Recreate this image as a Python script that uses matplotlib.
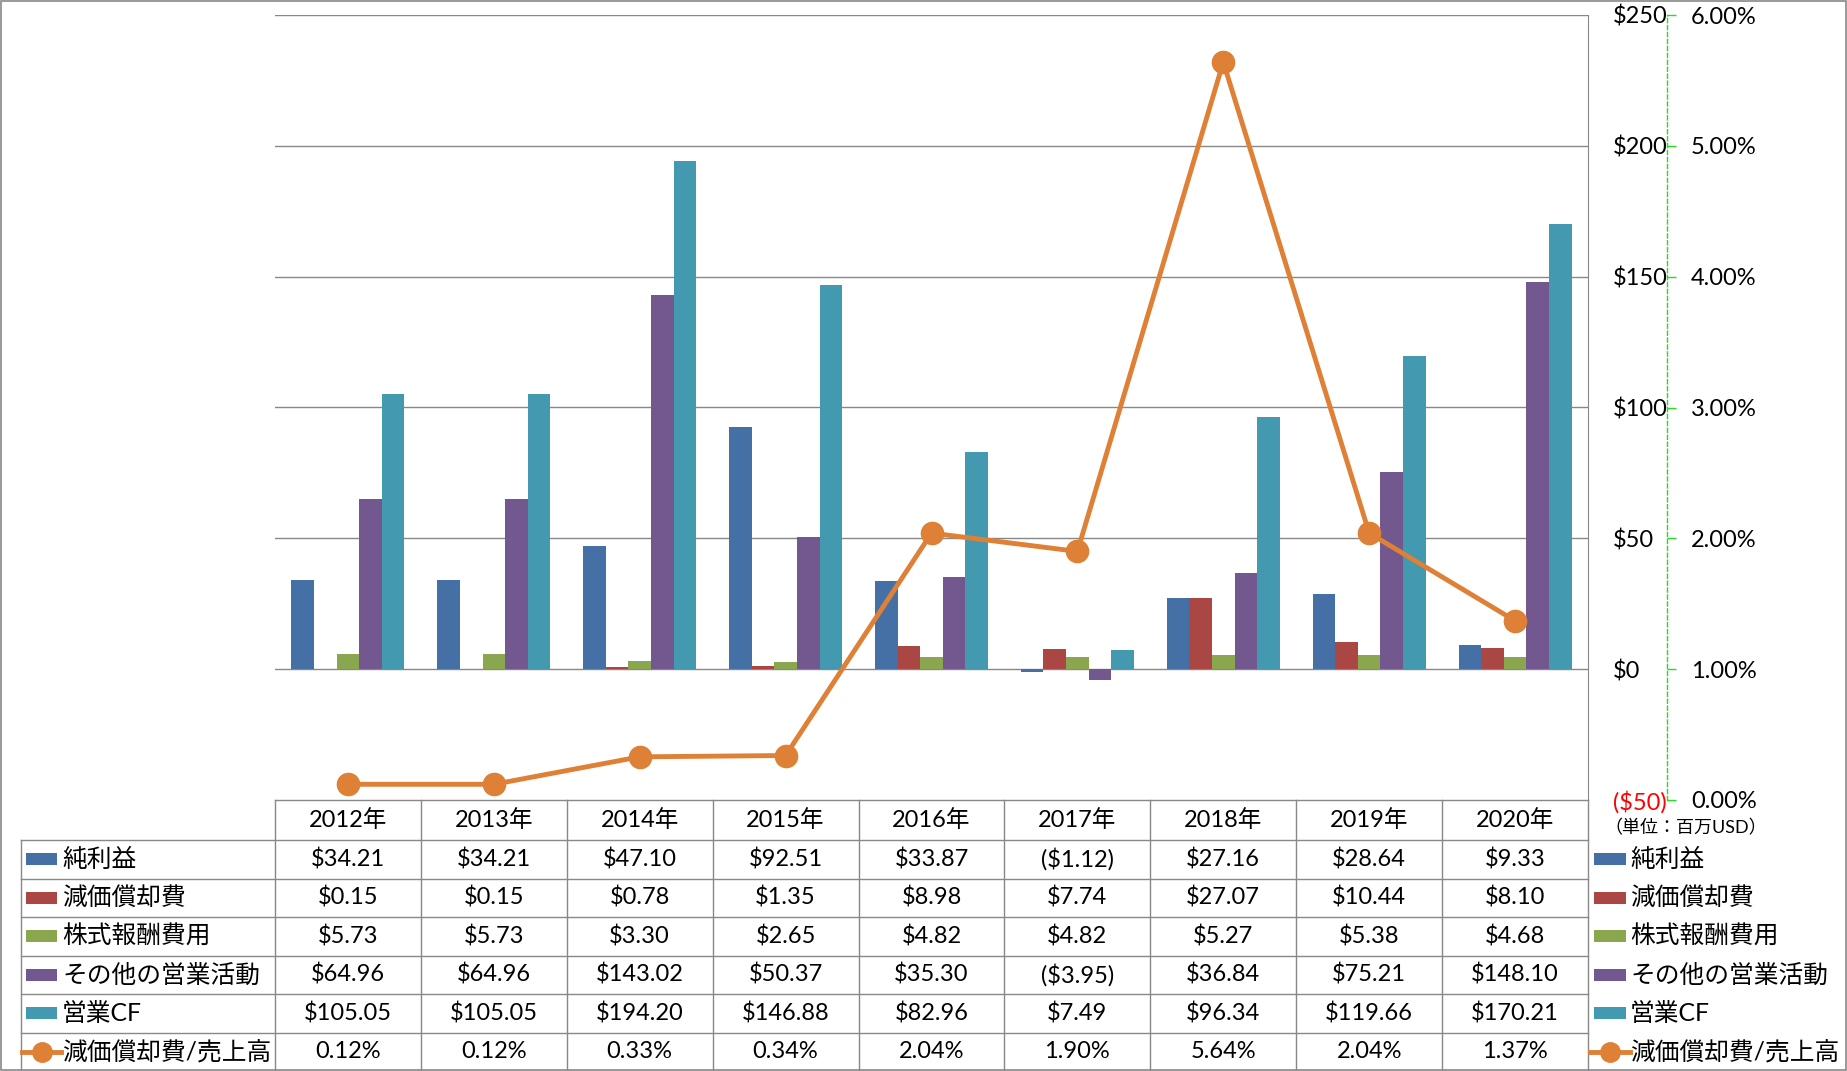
import matplotlib.pyplot as plt
import matplotlib.ticker as mticker
from matplotlib.lines import Line2D
from matplotlib.patches import Rectangle
import numpy as np

plt.rcParams['font.family'] = ['Lato', 'Noto Sans CJK JP', 'DejaVu Sans']

# ======================
# Data
# ======================
years = ['2012年', '2013年', '2014年', '2015年', '2016年', '2017年', '2018年', '2019年', '2020年']
series_names = ['純利益', '減価償却費', '株式報酬費用', 'その他の営業活動', '営業CF']
net_income = [34.21, 34.21, 47.10, 92.51, 33.87, -1.12, 27.16, 28.64, 9.33]
depreciation = [0.15, 0.15, 0.78, 1.35, 8.98, 7.74, 27.07, 10.44, 8.10]
stock_comp = [5.73, 5.73, 3.30, 2.65, 4.82, 4.82, 5.27, 5.38, 4.68]
other_ops = [64.96, 64.96, 143.02, 50.37, 35.30, -3.95, 36.84, 75.21, 148.10]
operating_cf = [105.05, 105.05, 194.20, 146.88, 82.96, 7.49, 96.34, 119.66, 170.21]
line_name = '減価償却費/売上高'
dep_ratio = [0.12, 0.12, 0.33, 0.34, 2.04, 1.90, 5.64, 2.04, 1.37]

bar_series = [net_income, depreciation, stock_comp, other_ops, operating_cf]
bar_colors = ['#4470A6', '#AA4644', '#8AA64E', '#72588E', '#4299B0']
line_color = '#DE8035'
grid_color = '#888888'

# ======================
# Layout (pixels)
# ======================
W, H = 1847, 1071
plot_l, plot_r, plot_t, plot_b = 275, 1588, 15, 800
head_b = 840
row_h = (H - head_b) / 6.0
FS = 17
PT = 0.72  # points per pixel at dpi 100

def fx(px):
    return px / W

def fy(py):
    return 1 - py / H

fig = plt.figure(figsize=(W / 100, H / 100), dpi=100)
ax = fig.add_axes([fx(plot_l), fy(plot_b), fx(plot_r - plot_l), (plot_b - plot_t) / H])

n = len(years)
x = np.arange(n)
bw = 0.155
for i, (vals, c) in enumerate(zip(bar_series, bar_colors)):
    ax.bar(x + (i - 2) * bw, vals, width=bw, color=c, zorder=2)

ax.set_xlim(-0.5, n - 0.5)
ax.set_ylim(-50, 250)
ax.set_yticks(np.arange(-50, 251, 50))
ax.set_xticks([])

def money(v, pos=None):
    if v < 0:
        return '(${:,.0f})'.format(-v)
    return '${:,.0f}'.format(v)

ax.yaxis.set_major_formatter(mticker.FuncFormatter(money))
for v in np.arange(0, 251, 50):
    ax.axhline(v, color=grid_color, lw=1.0, zorder=1)
for s in ['left', 'top', 'bottom']:
    ax.spines[s].set_visible(False)
ax.spines['right'].set_color(grid_color)

# secondary axis
ax2 = ax.twinx()
ax2.plot(x, dep_ratio, color=line_color, lw=3.5, marker='o', markersize=16, zorder=5)
ax2.set_ylim(0, 6)
ax2.set_yticks(np.arange(0, 6.01, 1))
ax2.yaxis.set_major_formatter(mticker.FuncFormatter(lambda v, p: '{:.2f}%'.format(v)))
ax2.tick_params(axis='y', length=9 * PT, width=1, color='#22DD22', pad=15 * PT, labelsize=FS)
for s in ['left', 'top', 'bottom']:
    ax2.spines[s].set_visible(False)
ax2.spines['right'].set_position(('outward', 79 * PT))
ax2.spines['right'].set_color('#22DD22')
ax2.spines['right'].set_linestyle((0, (3, 2)))
ax2.spines['right'].set_linewidth(1.0)

# primary labels on the right (after twinx, which moves them left)
ax.yaxis.tick_right()
ax.tick_params(axis='y', length=0, pad=25 * PT, labelsize=FS)
ax.spines['right'].set_visible(True)
for lab, val in zip(ax.get_yticklabels(), ax.get_yticks()):
    if val < 0:
        lab.set_color('red')

fig.text(fx(1604), fy(828), '（単位：百万USD）', fontsize=13, va='center', ha='left')

# ======================
# Data table
# ======================
def hline(x0, x1, y):
    fig.add_artist(Line2D([fx(x0), fx(x1)], [fy(y), fy(y)], color=grid_color, lw=1.0))

def vline(xp, y0, y1):
    fig.add_artist(Line2D([fx(xp), fx(xp)], [fy(y0), fy(y1)], color=grid_color, lw=1.0))

col_w = (plot_r - plot_l) / n
hline(plot_l, plot_r, plot_b)
for k in range(7):
    hline(21, plot_r, head_b + k * row_h)
for k in range(n + 1):
    vline(plot_l + k * col_w, plot_b, H)
vline(21, head_b, H)

for j, yl in enumerate(years):
    fig.text(fx(plot_l + (j + 0.5) * col_w), fy((plot_b + head_b) / 2), yl,
             fontsize=FS, ha='center', va='center')

def money2(v):
    if v < 0:
        return '(${:.2f})'.format(-v)
    return '${:.2f}'.format(v)

rows = [[money2(v) for v in s] for s in bar_series] + [['{:.2f}%'.format(v) for v in dep_ratio]]
names = series_names + [line_name]
colors = bar_colors + [line_color]

for r, (name, vals, c) in enumerate(zip(names, rows, colors)):
    yc = head_b + (r + 0.5) * row_h
    for j, t in enumerate(vals):
        fig.text(fx(plot_l + (j + 0.5) * col_w), fy(yc), t, fontsize=FS, ha='center', va='center')
    for (px0, px1, tx) in [(26, 57, 62), (1594, 1626, 1630)]:
        if r < 5:
            fig.add_artist(Rectangle((fx(px0), fy(yc + 6)), fx(px1 - px0), 12 / H,
                                     facecolor=c, edgecolor='none'))
        else:
            fig.add_artist(Line2D([fx(px0 - 4), fx(px1 + 4)], [fy(yc), fy(yc)], color=c, lw=3.5))
            fig.add_artist(Line2D([fx((px0 + px1) / 2)], [fy(yc)], color=c, marker='o',
                                  markersize=14, lw=0))
        fig.text(fx(tx), fy(yc), name, fontsize=FS + 0.8, ha='left', va='center')

# outer border
fig.add_artist(Rectangle((0.0005, 0.001), 0.999, 0.998, transform=fig.transFigure,
                         fill=False, edgecolor=grid_color, lw=1.2))

fig.savefig('out.png', dpi=100)
